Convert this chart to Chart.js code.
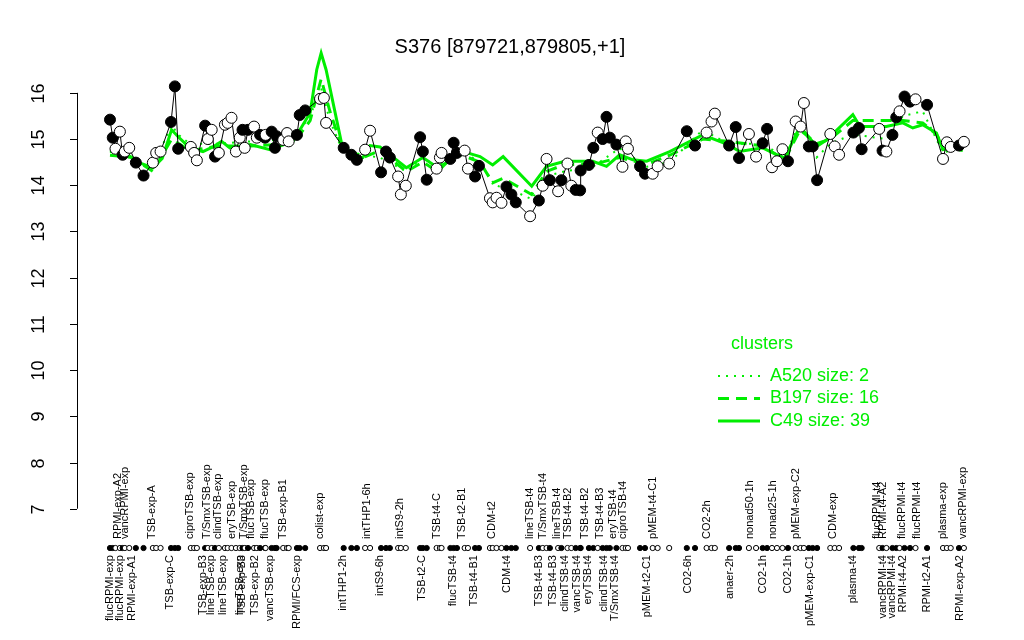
<!DOCTYPE html>
<html>
<head>
<meta charset="utf-8">
<script src="https://cdn.jsdelivr.net/npm/chart.js@4/dist/chart.umd.min.js"></script>
<style>
  html, body { margin: 0; padding: 0; background: #fff; }
  #chart { display: block; }
</style>
</head>
<body>
<canvas id="chart" width="1024" height="640"></canvas>
<script>
const title = 'S376 [879721,879805,+1]';

// sample position along the axis, expression value, filled marker
const positions = [0, 0.5, 1, 1.8, 2.3, 2.7, 3.5, 4.7, 6.1, 7.8, 8.4, 9.2, 11.1, 11.8, 12.4, 14.7, 15.3, 15.8,
  17.3, 17.8, 18.5, 19.1, 19.8, 20.9, 21.4, 22.1, 22.9, 23.6, 24.1, 24.5, 25.1, 26.2, 26.7, 27.3, 28.2, 28.3,
  29.4, 30.0, 30.3, 31.5, 32.2, 32.5, 34.0, 34.5, 35.5, 38.2, 38.9, 39.3, 42.5, 43.9, 44.9, 46.4, 47.3, 49.3,
  50.2, 50.9, 52.4, 52.9, 53.8, 56.4, 56.9, 57.6, 59.4, 60.0, 60.3, 61.9, 62.5, 63.1, 64.5, 65.1, 66.4, 67.1,
  69.1, 69.6, 70.3, 71.2, 72.1, 73.0, 73.8, 76.4, 78.0, 78.7, 79.4, 80.0, 81.5, 82.1, 83.2, 83.9, 84.7, 85.5,
  85.6, 87.1, 87.9, 88.7, 89.6, 90.3, 90.9, 92.1, 93.2, 93.8, 94.2, 96.4, 97.3, 98.7, 99.6, 101.7, 104.9, 106.4,
  108.5, 109.4, 110.0, 112.6, 113.8, 114.4, 116.2, 117.5, 118.7, 119.5, 120.4, 121.3, 122.3, 123.3, 124.7, 125.6,
  126.2, 127.1, 127.8, 128.6, 131.0, 131.8, 132.6, 135.2, 136.2, 136.7, 139.9, 140.5, 141.2, 142.3, 143.0, 143.6,
  144.5, 145.5, 146.5, 148.6, 151.5, 152.2, 152.9, 154.4, 155.3];
const values = [15.42, 15.03, 14.79, 15.16, 14.66, 14.73, 14.81, 14.49, 14.21, 14.49, 14.70, 14.73, 15.37, 16.14, 14.79, 14.83, 14.70, 14.54,
  15.29, 15.00, 15.20, 14.62, 14.70, 15.31, 15.35, 15.46, 14.73, 15.03, 15.20, 14.81, 15.20, 15.27, 15.03, 15.09, 15.03, 15.09,
  15.16, 14.81, 15.06, 14.98, 15.13, 14.95, 15.09, 15.52, 15.62, 15.87, 15.89, 15.35, 14.81, 14.66, 14.55, 14.77, 15.18, 14.28,
  14.73, 14.60, 14.19, 13.80, 13.99, 15.04, 14.73, 14.12, 14.36, 14.60, 14.70, 14.57, 14.92, 14.70, 14.75, 14.36, 14.19, 14.42,
  13.72, 13.63, 13.73, 13.62, 13.97, 13.80, 13.63, 13.33, 13.67, 13.99, 14.57, 14.11, 13.87, 14.11, 14.47, 13.99, 13.90, 13.89,
  14.32, 14.44, 14.81, 15.14, 15.00, 15.48, 15.03, 14.88, 14.40, 14.95, 14.79, 14.41, 14.25, 14.25, 14.41, 14.47, 15.17, 14.86,
  15.14, 15.38, 15.55, 14.86, 15.26, 14.59, 15.11, 14.62, 14.91, 15.22, 14.39, 14.52, 14.78, 14.52, 15.38, 15.27,
  15.78, 14.84, 14.84, 14.11, 15.11, 14.84, 14.66, 15.14, 15.24, 14.78, 15.22, 14.75, 14.73, 15.09, 15.47, 15.60,
  15.92, 15.81, 15.86, 15.74, 14.57, 14.93, 14.83, 14.86, 14.94];
const filled = [1, 1, 0, 0, 1, 0, 0, 1, 1, 0, 0, 0, 1, 1, 1, 0, 0, 0,
  1, 0, 0, 1, 0, 0, 0, 0, 0, 0, 1, 0, 1, 0, 0, 1, 1, 0,
  1, 1, 1, 0, 0, 0, 1, 1, 1, 0, 0, 0, 1, 1, 1, 0, 0, 1,
  1, 1, 0, 0, 0, 1, 1, 1, 0, 0, 0, 1, 1, 1, 0, 0, 1, 1,
  0, 0, 0, 0, 1, 1, 1, 0, 1, 0, 0, 1, 0, 1, 0, 0, 1, 1,
  1, 1, 1, 0, 1, 1, 1, 1, 0, 0, 0, 1, 1, 0, 0, 0, 1, 1,
  0, 0, 0, 1, 1, 1, 0, 0, 1, 1, 0, 0, 0, 1, 0, 0,
  0, 1, 1, 1, 0, 0, 0, 1, 1, 1, 0, 1, 0, 1, 1, 0,
  1, 1, 0, 1, 0, 0, 0, 1, 0];

// cluster mean profiles: [position, value]
const clusterC49 = [[0, 14.73], [2.7, 14.70], [5.5, 14.48], [7.8, 14.38], [9.5, 14.58], [11.2, 15.2], [12.4, 15.05],
  [14.5, 14.81], [16.9, 14.73], [18.7, 14.83], [20.3, 14.95], [21.8, 14.81], [25.5, 14.88], [29.1, 14.77], [33.3, 14.95],
  [36.4, 15.57], [37.6, 16.5], [38.4, 16.86], [39.3, 16.5], [42.1, 14.92], [44.2, 14.6], [46.0, 14.6], [47.3, 14.86],
  [49.1, 14.83], [53.9, 14.38], [56.9, 14.6], [59.6, 14.38], [61.5, 14.51], [63.0, 14.77], [67.3, 14.62], [69.6, 14.44],
  [71.5, 14.62], [76.7, 13.98], [79.4, 14.41], [82.7, 14.52], [87.8, 14.52], [90.3, 14.41], [92.7, 14.66], [95.1, 14.55],
  [97.6, 14.52], [101.8, 14.73], [107.8, 15.09], [112.4, 14.88], [114.5, 14.73], [118.7, 14.81], [121.3, 14.66],
  [122.7, 14.59], [125.5, 15.27], [128.5, 14.84], [130.3, 14.98], [135.1, 15.53], [136.4, 15.27], [141.2, 15.27],
  [144.2, 15.35], [146.0, 15.24], [147.8, 15.31], [150.3, 15.13], [151.5, 14.77], [155.1, 14.84]];
const clusterB197 = [[0, 14.65], [4, 14.6], [7.8, 14.3], [11.2, 15.0], [14.5, 14.75], [20, 14.85], [25.5, 14.85],
  [33.3, 14.9], [36.4, 15.4], [38.4, 16.3], [40, 15.6], [42.1, 14.85], [46, 14.6], [49.1, 14.75], [53.9, 14.3],
  [56.9, 14.5], [59.6, 14.3], [63, 14.7], [67.3, 14.5], [69.6, 14.05], [71.5, 14.15], [74.5, 13.95], [76.7, 13.8],
  [79.4, 14.3], [82.7, 14.45], [87.8, 14.45], [92.7, 14.6], [97.6, 14.45], [101.8, 14.65], [107.8, 15.0], [112.4, 14.95],
  [118.7, 14.85], [122.7, 14.55], [125.5, 15.2], [128.5, 14.9], [131, 15.0], [135.1, 15.4], [141.2, 15.4], [144.2, 15.4],
  [147.8, 15.35], [150.3, 15.1], [151.5, 14.85], [155.1, 14.75]];
const clusterA520 = [[0, 14.75], [4, 14.55], [7.8, 14.4], [11.2, 15.3], [12.4, 15.1], [14.5, 14.9], [20, 14.9],
  [25.5, 14.95], [33.3, 15.0], [36.4, 15.5], [38.4, 16.1], [40, 15.4], [42.1, 14.8], [46, 14.65], [49.1, 14.6],
  [53.9, 14.3], [56.9, 14.6], [59.6, 14.4], [63, 14.8], [67.3, 14.5], [70, 14.0], [73, 13.9], [76.7, 13.7], [79.4, 14.2],
  [82.7, 14.3], [87.8, 14.4], [92.7, 14.8], [97.6, 14.4], [101.8, 14.5], [107.8, 15.2], [112.4, 14.9], [118.7, 14.9],
  [122.7, 14.6], [125.5, 15.4], [128.5, 14.6], [131, 14.9], [135.1, 15.1], [141.2, 15.0], [144.2, 15.5], [147.8, 15.6],
  [150.3, 15.0], [151.5, 14.7], [155.1, 14.85]];

const legendNames = ['A520 size: 2', 'B197 size: 16', 'C49 size: 39'];

const topLabels = [[1.5, 'RPMI-exp-A2'], [2.7, 'vancRPMI-exp'], [7.6, 'TSB-exp-A'], [14.5, 'ciproTSB-exp'],
  [17.6, 'T/SmxTSB-exp'], [19.6, 'clindTSB-exp'], [22.2, 'eryTSB-exp'], [24.4, 'T/SmxTSB-exp'], [25.6, 'flucTSB-exp'],
  [28.2, 'flucTSB-exp'], [31.5, 'TSB-exp-B1'], [38.2, 'colist-exp'], [46.7, 'intTHP1-6h'], [52.7, 'intS9-2h'],
  [59.5, 'TSB-t4-C'], [64, 'TSB-t2-B1'], [69.5, 'CDM-t2'], [76.4, 'lineTSB-t4'], [78.7, 'T/SmxTSB-t4'],
  [81.3, 'lineTSB-t4'], [83.3, 'TSB-t4-B2'], [86.4, 'TSB-t4-B2'], [89.1, 'TSB-t4-B3'], [91.5, 'eryTSB-t4'],
  [93.3, 'ciproTSB-t4'], [98.7, 'pMEM-t4-C1'], [108.5, 'CO2-2h'], [116.4, 'nonad50-1h'], [120.5, 'nonad25-1h'],
  [124.7, 'pMEM-exp-C2'], [131.5, 'CDM-exp'], [139.5, 'flucRPMI-t4'], [140.5, 'RPMI-t4-A2'], [144, 'flucRPMI-t4'],
  [146.7, 'flucRPMI-t4'], [151.5, 'plasma-exp'], [155.1, 'vancRPMI-exp']];
const bottomLabels = [[0, 'flucRPMI-exp'], [1.8, 'flucRPMI-exp'], [4, 'RPMI-exp-A1'], [10.9, 'TSB-exp-C'],
  [16.9, 'TSB-exp-B3'], [18.4, 'lineTSB-exp'], [20.5, 'lineTSB-exp'], [23.6, 'lineTSB-exp'], [24, 'TSB-exp-B3'],
  [26.4, 'TSB-exp-B2'], [29.1, 'vancTSB-exp'], [34, 'RPMI/FCS-exp'], [42.4, 'intTHP1-2h'], [49.1, 'intS9-6h'],
  [56.7, 'TSB-t2-C'], [62.4, 'flucTSB-t4'], [66.2, 'TSB-t4-B1'], [72.2, 'CDM-t4'], [78, 'TSB-t4-B3'],
  [80.5, 'TSB-t4-B3'], [82.7, 'clindTSB-t4'], [84.9, 'vancTSB-t4'], [86.9, 'eryTSB-t4'], [89.8, 'clindTSB-t4'],
  [91.8, 'T/SmxTSB-t4'], [97.6, 'pMEM-t2-C1'], [105.1, 'CO2-6h'], [112.7, 'anaer-2h'], [118.7, 'CO2-1h'],
  [123.3, 'CO2-1h'], [127.3, 'pMEM-exp-C1'], [135.1, 'plasma-t4'], [140.5, 'vancRPMI-t4'], [142.2, 'vancRPMI-t4'],
  [144.2, 'RPMI-t4-A2'], [148.5, 'RPMI-t2-A1'], [154.5, 'RPMI-exp-A2']];

const yTicks = [7, 8, 9, 10, 11, 12, 13, 14, 15, 16];
const stripLevel = 6.15;

const GREEN = '#00ee00';
const FONT = '"Liberation Sans", Arial, sans-serif';

const toXY = (arr) => arr.map((p) => ({ x: p[0], y: p[1] }));
const mainPoints = positions.map((x, i) => ({ x: x, y: values[i] }));
const stripPoints = positions.map((x) => ({ x: x, y: stripLevel }));
const fills = filled.map((f) => (f ? '#000' : '#fff'));

const decorations = {
  id: 'decorations',
  afterDraw(chart) {
    const ctx = chart.ctx;
    const xs = chart.scales.x;
    const ys = chart.scales.y;
    ctx.save();
    ctx.fillStyle = '#000';
    ctx.strokeStyle = '#000';

    // title
    ctx.font = '20px ' + FONT;
    ctx.textAlign = 'center';
    ctx.textBaseline = 'middle';
    ctx.fillText(title, 510, 47);

    // y axis
    const axisX = chart.chartArea.left;
    ctx.lineWidth = 1;
    ctx.beginPath();
    ctx.moveTo(axisX + 0.5, ys.getPixelForValue(yTicks[0]));
    ctx.lineTo(axisX + 0.5, ys.getPixelForValue(yTicks[yTicks.length - 1]));
    ctx.stroke();
    ctx.font = '18px ' + FONT;
    yTicks.forEach((t) => {
      const py = Math.round(ys.getPixelForValue(t)) + 0.5;
      ctx.beginPath();
      ctx.moveTo(axisX - 7, py);
      ctx.lineTo(axisX, py);
      ctx.stroke();
      ctx.save();
      ctx.translate(axisX - 38, py);
      ctx.rotate(-Math.PI / 2);
      ctx.textAlign = 'center';
      ctx.textBaseline = 'middle';
      ctx.fillText(String(t), 0, 0);
      ctx.restore();
    });

    // sample labels
    ctx.font = '11px ' + FONT;
    const topY = ys.getPixelForValue(stripLevel) - 9;
    const botY = ys.getPixelForValue(stripLevel) + 7;
    topLabels.forEach(([x, txt]) => {
      ctx.save();
      ctx.translate(xs.getPixelForValue(x), topY);
      ctx.rotate(-Math.PI / 2);
      ctx.textAlign = 'left';
      ctx.textBaseline = 'middle';
      ctx.fillText(txt, 0, 0);
      ctx.restore();
    });
    bottomLabels.forEach(([x, txt]) => {
      ctx.save();
      ctx.translate(xs.getPixelForValue(x), botY);
      ctx.rotate(-Math.PI / 2);
      ctx.textAlign = 'right';
      ctx.textBaseline = 'middle';
      ctx.fillText(txt, 0, 0);
      ctx.restore();
    });

    // legend
    ctx.font = '18px ' + FONT;
    ctx.textAlign = 'left';
    ctx.fillStyle = GREEN;
    ctx.fillText('clusters', 731, 344);
    const dashes = [[2, 6], [11, 7], []];
    const widths = [2, 3, 3];
    legendNames.forEach((name, i) => {
      const ly = 376 + i * 22.5;
      ctx.strokeStyle = GREEN;
      ctx.lineWidth = widths[i];
      ctx.setLineDash(dashes[i]);
      ctx.beginPath();
      ctx.moveTo(718, ly);
      ctx.lineTo(760, ly);
      ctx.stroke();
      ctx.setLineDash([]);
      ctx.fillText(name, 770, ly);
    });
    ctx.restore();
  },
};

new Chart(document.getElementById('chart'), {
  type: 'line',
  data: {
    datasets: [
      {
        label: 'samples',
        data: mainPoints,
        borderColor: '#000',
        borderWidth: 1,
        pointRadius: 5.5,
        pointBackgroundColor: fills,
        pointBorderColor: '#000',
        pointBorderWidth: 1,
        order: 0,
      },
      {
        label: 'strip',
        data: stripPoints,
        showLine: false,
        pointRadius: 2.6,
        pointBackgroundColor: fills,
        pointBorderColor: '#000',
        pointBorderWidth: 1,
        order: 1,
      },
      {
        label: 'A520',
        data: toXY(clusterA520),
        borderColor: GREEN,
        borderWidth: 2,
        borderDash: [2, 6],
        pointRadius: 0,
        order: 2,
      },
      {
        label: 'B197',
        data: toXY(clusterB197),
        borderColor: GREEN,
        borderWidth: 3,
        borderDash: [11, 7],
        pointRadius: 0,
        order: 3,
      },
      {
        label: 'C49',
        data: toXY(clusterC49),
        borderColor: GREEN,
        borderWidth: 3,
        pointRadius: 0,
        order: 4,
      },
    ],
  },
  options: {
    responsive: false,
    animation: false,
    devicePixelRatio: 1,
    layout: { padding: { left: 77, right: 26, top: 30, bottom: 5 } },
    plugins: { legend: { display: false }, tooltip: { enabled: false }, title: { display: false } },
    scales: {
      x: { type: 'linear', min: -6, max: 161.5, display: false },
      y: { type: 'linear', min: 4.3, max: 17.36, display: false },
    },
  },
  plugins: [decorations],
});
</script>
</body>
</html>
